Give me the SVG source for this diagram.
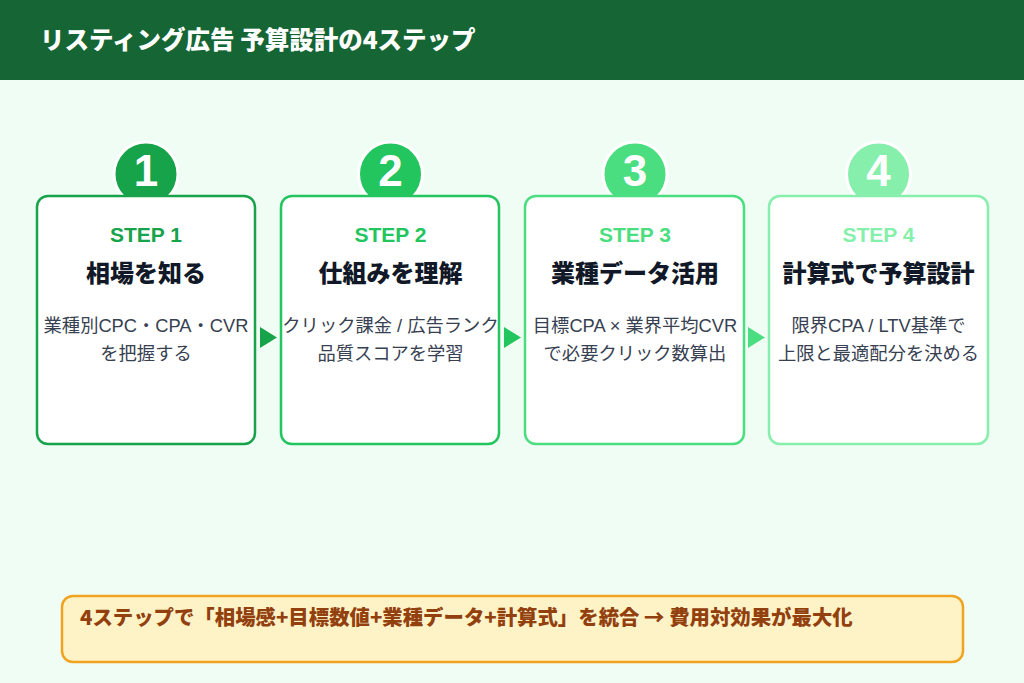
<svg xmlns="http://www.w3.org/2000/svg" width="1024" height="683" viewBox="0 0 1024 683">
<style>
.title{font-family:"Noto Sans CJK JP",sans-serif;font-weight:900;font-size:24.5px;fill:#ffffff}
.num{font-family:"Liberation Sans","Noto Sans CJK JP",sans-serif;font-weight:700;font-size:44px;fill:#ffffff;text-anchor:middle}
.step{font-family:"Liberation Sans","Noto Sans CJK JP",sans-serif;font-weight:700;font-size:21px;text-anchor:middle}
.head{font-family:"Noto Sans CJK JP",sans-serif;font-weight:900;font-size:24px;fill:#111827;text-anchor:middle}
.desc{font-family:"Liberation Sans","Noto Sans CJK JP",sans-serif;font-size:18.3px;fill:#374151;text-anchor:middle}
.card{fill:#ffffff;stroke-width:2.5}
.circ{stroke:#ffffff;stroke-width:3}
.foot{font-family:"Noto Sans CJK JP",sans-serif;font-weight:900;font-size:20.4px;fill:#92400e}
</style>
<rect x="0" y="0" width="1024" height="683" fill="#f0fdf4"/>
<g id="header">
<rect x="0" y="0" width="1024" height="80" fill="#166534"/>
<text class="title" x="40" y="49">リスティング広告 予算設計の4ステップ</text>
</g>
<g id="step1">
<circle class="circ" cx="146" cy="174" r="32" fill="#16a34a"/>
<text class="num" x="146" y="186">1</text>
<rect class="card" x="37" y="196" width="218" height="248" rx="11" stroke="#16a34a"/>
<text class="step" x="146" y="242" fill="#16a34a">STEP 1</text>
<text class="head" x="146" y="282">相場を知る</text>
<text class="desc" x="146" y="332">業種別CPC・CPA・CVR</text>
<text class="desc" x="146" y="360">を把握する</text>
</g>
<g id="step2">
<circle class="circ" cx="390.5" cy="174" r="32" fill="#22c55e"/>
<text class="num" x="390.5" y="186">2</text>
<rect class="card" x="281" y="196" width="218" height="248" rx="11" stroke="#22c55e"/>
<text class="step" x="390.5" y="242" fill="#22c55e">STEP 2</text>
<text class="head" x="390.5" y="282">仕組みを理解</text>
<text class="desc" x="390.5" y="332">クリック課金 / 広告ランク</text>
<text class="desc" x="390.5" y="360">品質スコアを学習</text>
</g>
<g id="step3">
<circle class="circ" cx="635" cy="174" r="32" fill="#4ade80"/>
<text class="num" x="635" y="186">3</text>
<rect class="card" x="525" y="196" width="219" height="248" rx="11" stroke="#4ade80"/>
<text class="step" x="635" y="242" fill="#4ade80">STEP 3</text>
<text class="head" x="635" y="282">業種データ活用</text>
<text class="desc" x="635" y="332">目標CPA × 業界平均CVR</text>
<text class="desc" x="635" y="360">で必要クリック数算出</text>
</g>
<g id="step4">
<circle class="circ" cx="878.5" cy="174" r="32" fill="#86efac"/>
<text class="num" x="878.5" y="186">4</text>
<rect class="card" x="769" y="196" width="219" height="248" rx="11" stroke="#86efac"/>
<text class="step" x="878.5" y="242" fill="#86efac">STEP 4</text>
<text class="head" x="878.5" y="282">計算式で予算設計</text>
<text class="desc" x="878.5" y="332">限界CPA / LTV基準で</text>
<text class="desc" x="878.5" y="360">上限と最適配分を決める</text>
</g>
<g id="connectors">
<polygon points="260,327 260,348 277,337.5" fill="#16a34a"/>
<polygon points="504,327 504,348 521,337.5" fill="#22c55e"/>
<polygon points="748,327 748,348 765,337.5" fill="#4ade80"/>
</g>
<g id="summary">
<rect x="62" y="596" width="901" height="66" rx="11" fill="#fef3c7" stroke="#f0a320" stroke-width="2.5"/>
<text class="foot" x="80" y="625">4ステップで「相場感+目標数値+業種データ+計算式」を統合 → 費用対効果が最大化</text>
</g>
</svg>
